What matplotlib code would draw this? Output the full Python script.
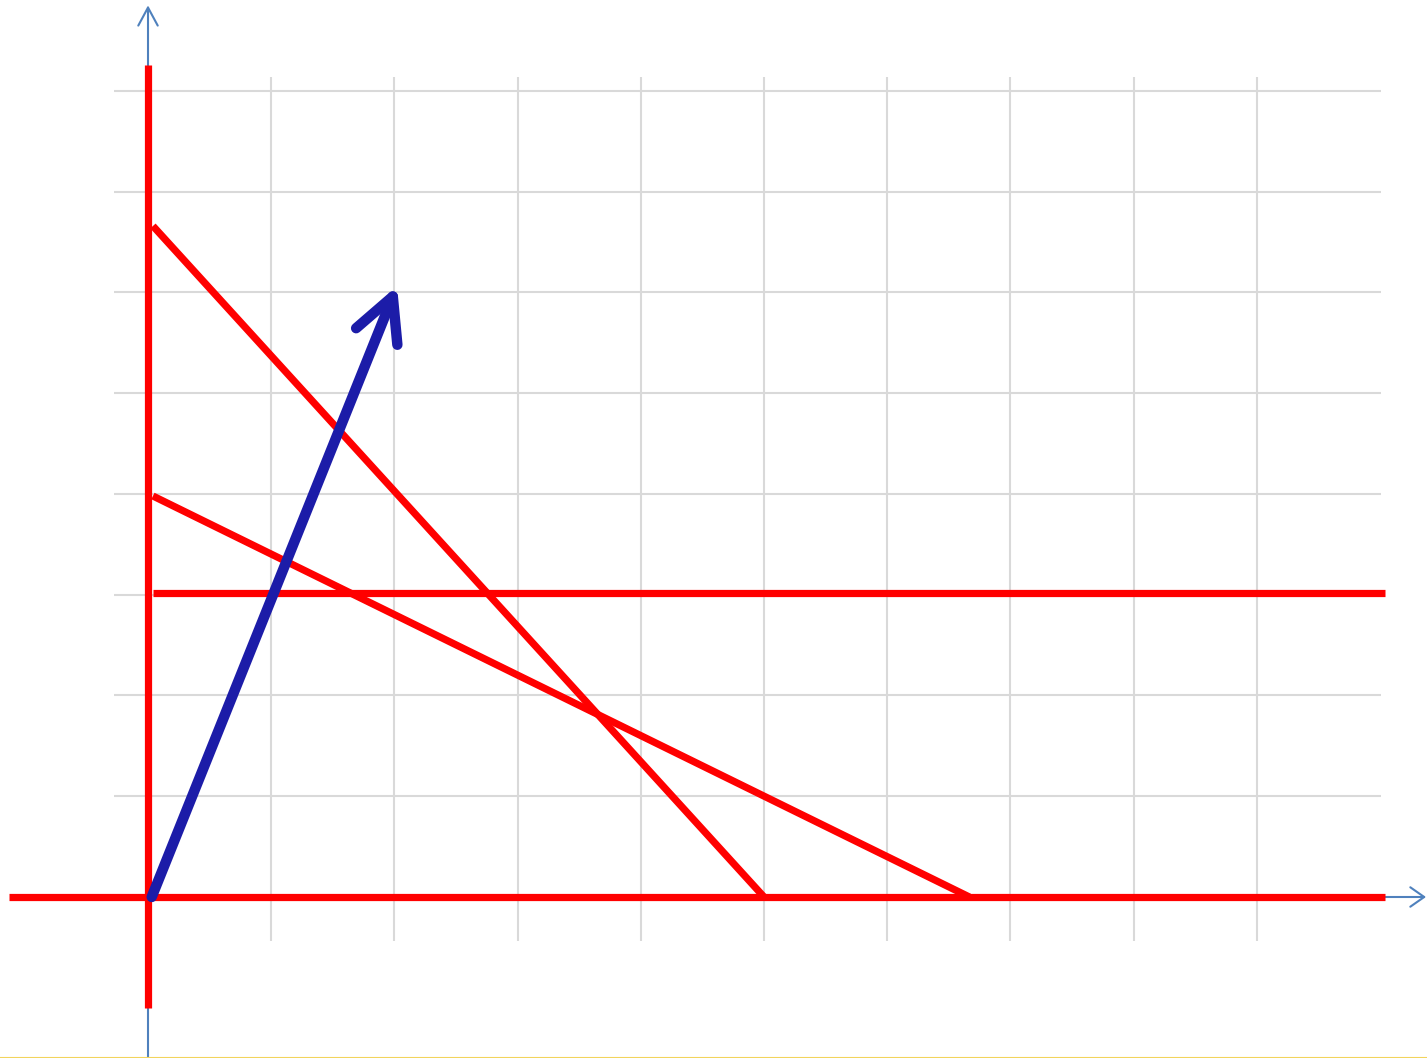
import numpy as np
import matplotlib
matplotlib.use("Agg")
import matplotlib.pyplot as plt
from matplotlib.lines import Line2D

# grid positions (data units)
grid_x = [1, 2, 3, 4, 5, 6, 7, 8, 9]
grid_y = [1, 2, 3, 4, 5, 6, 7, 8]

# red lines: (x0, x1), (y0, y1)
vert_x = [0.0, 0.0]
vert_y = [-1.10, 8.26]
base_x = [-1.13, 10.04]
base_y = [0.0, 0.0]
h3_x = [0.04, 10.04]
h3_y = [3.02, 3.02]
diag1_x = [0.04, 5.0]        # 4x + 3y = 20
diag1_y = [6.66, 0.0]
diag2_x = [0.04, 6.667]      # 3x + 5y = 20
diag2_y = [3.98, 0.0]

# blue vector
vec_start = (0.03, 0.0)
vec_end = (2.0, 6.0)

fig = plt.figure(figsize=(14.27, 10.58), dpi=100)
ax = fig.add_axes([0, 0, 1, 1])
ax.set_xlim(-1.2013, 10.381)
ax.set_ylim(-1.598, 8.903)
ax.axis("off")

grid_col = "#d9d9d9"
ax.vlines(grid_x, -0.44, 8.14, colors=grid_col, lw=1.5, zorder=1)
ax.hlines(grid_y, -0.28, 10.01, colors=grid_col, lw=1.5, zorder=1)

# blue coordinate axes with open arrowheads
axis_col = "#4f81bd"
ax.annotate("", xy=(10.373, 0.0), xytext=(-1.1, 0.0),
            arrowprops=dict(arrowstyle="->,head_length=10,head_width=7",
                            mutation_scale=1, color=axis_col, lw=1.5,
                            shrinkA=0, shrinkB=0), zorder=2)
ax.annotate("", xy=(0.0, 8.85), xytext=(0.0, -1.598),
            arrowprops=dict(arrowstyle="->,head_length=13,head_width=7",
                            mutation_scale=1, color=axis_col, lw=1.5,
                            shrinkA=0, shrinkB=0), zorder=2)

red = "#ff0000"
for xs, ys in [(vert_x, vert_y), (base_x, base_y), (h3_x, h3_y),
               (diag1_x, diag1_y), (diag2_x, diag2_y)]:
    ax.plot(xs, ys, color=red, lw=5.2, solid_capstyle="butt", zorder=3)

# vector arrow; push the tip forward a few pixels because the
# thick arrowhead wedge gets pulled back by matplotlib
p0 = ax.transData.transform(vec_start)
p1 = ax.transData.transform(vec_end)
u = (p1 - p0) / np.hypot(*(p1 - p0))
tip = ax.transData.inverted().transform(p1 + u * 7)

blue = "#1c1ca8"
ax.annotate("", xy=tip, xytext=vec_start,
            arrowprops=dict(arrowstyle="->,head_length=31,head_width=16",
                            mutation_scale=1, color=blue, lw=7.5,
                            capstyle="round", joinstyle="round",
                            shrinkA=0, shrinkB=0), zorder=4)

fig.add_artist(Line2D([0, 1], [0.0008, 0.0008], transform=fig.transFigure,
                      color="#f2d45c", lw=0.8))

fig.savefig("out.png", dpi=100)
